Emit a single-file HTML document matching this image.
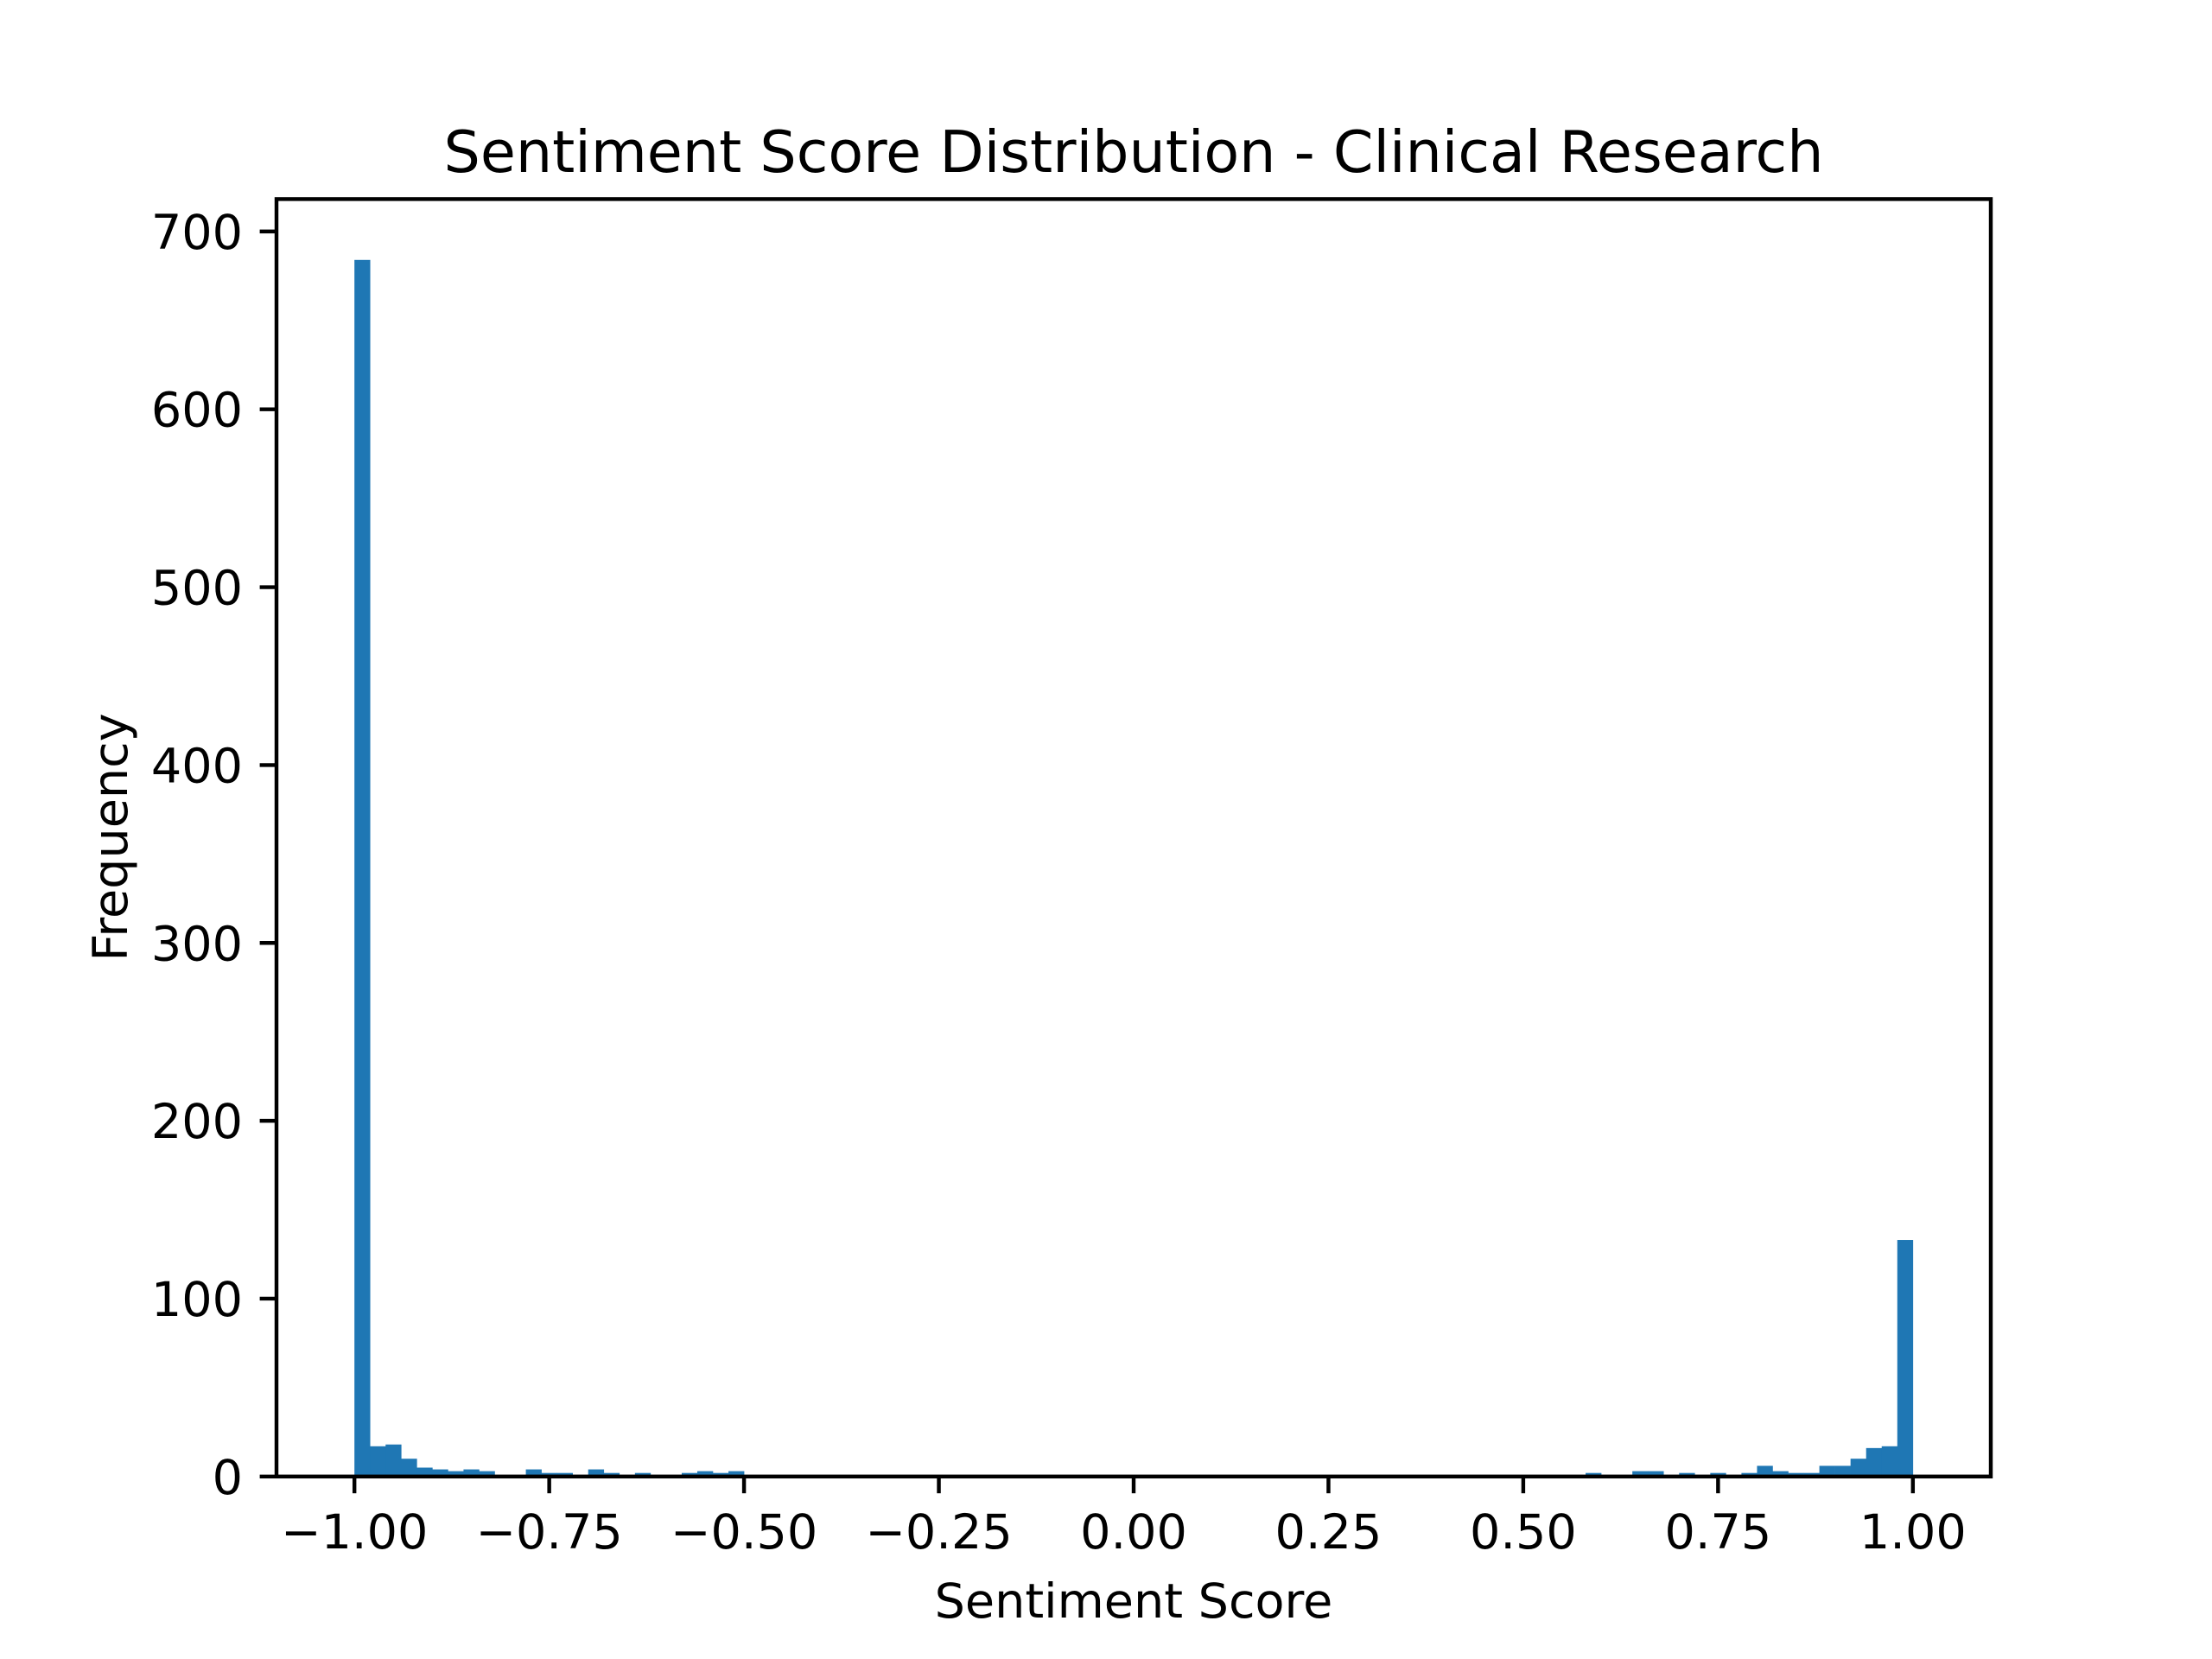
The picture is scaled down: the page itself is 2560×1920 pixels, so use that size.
<!DOCTYPE html>
<html><head><meta charset="utf-8"><style>
html,body{margin:0;padding:0;background:#fff;}
svg{display:block;}
text{font-family:"DejaVu Sans","Liberation Sans",sans-serif;fill:#000;}
</style></head>
<body>
<svg id="chart" width="2560" height="1920" viewBox="0 0 2560 1920" xmlns="http://www.w3.org/2000/svg">
<rect x="0" y="0" width="2560" height="1920" fill="#fff"/>
<g id="bars"></g>
<g id="axes"></g>
<text x="1312" y="199" font-size="66.7" text-anchor="middle">Sentiment Score Distribution - Clinical Research</text>
<text x="1312" y="1872" font-size="55.6" text-anchor="middle">Sentiment Score</text>
<text x="0" y="0" font-size="55.6" text-anchor="middle" transform="translate(147,969) rotate(-90)">Frequency</text>
</svg>
<script>
const binStart = -1.0;
const binWidth = 0.02;
const counts = [684,17,18,10,5,4,3,4,3,0, 0,4,2,2,0,4,2,0,2,0, 0,2,3,2,3,0,0,0,0,0,
 0,0,0,0,0,0,0,0,0,0, 0,0,0,0,0,0,0,0,0,0, 0,0,0,0,0,0,0,0,0,0,
 0,0,0,0,0,0,0,0,0,0, 0,0,0,0,0,0,0,0,0,2, 0,0,3,3,0,2,0,2,0,2,
 6,3,2,2,6,6,10,16,17,133];
const xTicks = [-1.0,-0.75,-0.5,-0.25,0,0.25,0.5,0.75,1.0];
const xTickLabels = ["\u22121.00","\u22120.75","\u22120.50","\u22120.25","0.00","0.25","0.50","0.75","1.00"];
const yTicks = [0,100,200,300,400,500,600,700];
const yTickLabels = ["0","100","200","300","400","500","600","700"];

const L=320,R=2304,T=230.4,B=1708.8;
const xmin=-1.1,xmax=1.1;
const ymax=Math.max(...counts)*1.05;
const sx=v=>L+(v-xmin)/(xmax-xmin)*(R-L);
const sy=v=>B-v/ymax*(B-T);
const NS='http://www.w3.org/2000/svg';
const bars=document.getElementById('bars');
const axes=document.getElementById('axes');
function mk(tag,attrs,parent){const e=document.createElementNS(NS,tag);for(const k in attrs)e.setAttribute(k,attrs[k]);parent.appendChild(e);return e;}
counts.forEach((c,i)=>{
  if(c<=0)return;
  const x0=sx(binStart+i*binWidth),x1=sx(binStart+(i+1)*binWidth);
  const r=mk('rect',{x:x0,y:sy(c),width:x1-x0+0.3,height:B-sy(c),fill:'#1f77b4'},bars);
  
  
});
xTicks.forEach((v,i)=>{
  const x=sx(v);
  const t=mk('line',{x1:x,x2:x,y1:B,y2:B+19.4,stroke:'#000','stroke-width':4.44},axes);
  
  
  const l=mk('text',{x:x,y:1792,'font-size':55.6,'text-anchor':'middle'},axes);
  l.textContent=xTickLabels[i];
  
  
});
yTicks.forEach((v,i)=>{
  const y=sy(v);
  const t=mk('line',{x1:L-19.4,x2:L,y1:y,y2:y,stroke:'#000','stroke-width':4.44},axes);
  
  
  const l=mk('text',{x:281,y:y+20,'font-size':55.6,'text-anchor':'end'},axes);
  l.textContent=yTickLabels[i];
  
  
});
const frame=mk('rect',{x:L,y:T,width:R-L,height:B-T,fill:'none',stroke:'#000','stroke-width':4.44},axes);


</script>
</body></html>
